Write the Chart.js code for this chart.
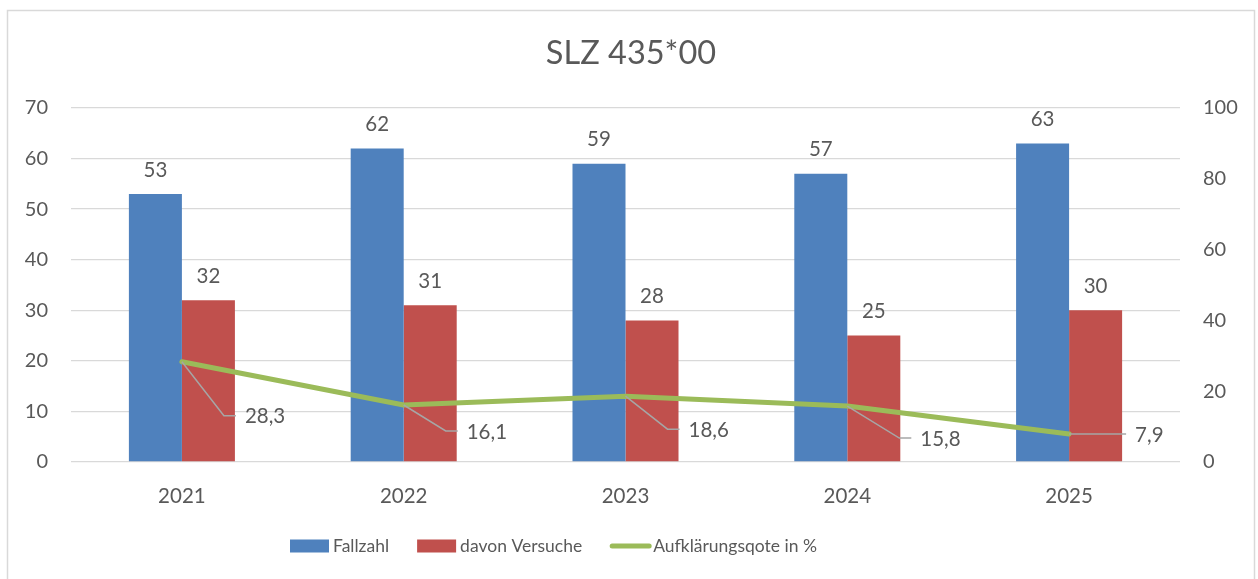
<!DOCTYPE html>
<html lang="de">
<head>
<meta charset="utf-8">
<title>SLZ 435*00</title>
<script src="https://cdn.jsdelivr.net/npm/chart.js@4.4.0/dist/chart.umd.min.js"></script>
<style>
    html, body { margin: 0; padding: 0; background: #fff; }
    #chart { display: block; }
</style>
</head>
<body>
<canvas id="chart" width="1258" height="579"></canvas>
<script>
// Daten aus der Grafik
const jahre = ['2021', '2022', '2023', '2024', '2025'];
const fallzahl = [53, 62, 59, 57, 63];
const versuche = [32, 31, 28, 25, 30];
const aufklaerung = [28.3, 16.1, 18.6, 15.8, 7.9];

const titel = 'SLZ 435*00';
const textFarbe = '#595959';
const schrift = 'Lato, "Open Sans", sans-serif';

// Versatz der Beschriftungen an der Linie (Knick relativ zum Punkt)
const linienLabelVersatz = [[42, 54], [42, 26], [42, 33], [52, 32], [45, 0]];

function formatDe(v) {
    return v.toFixed(1).replace('.', ',');
}

// Rahmen, Titel, Werte und Legende selbst zeichnen
const deko = {
    id: 'deko',
    beforeDraw(chart) {
        const ctx = chart.ctx;
        ctx.save();
        ctx.fillStyle = '#fff';
        ctx.fillRect(0, 0, chart.width, chart.height);
        ctx.strokeStyle = '#D9D9D9';
        ctx.lineWidth = 1.5;
        ctx.strokeRect(7.5, 10.5, 1247, 600);
        ctx.restore();
    },
    afterDatasetsDraw(chart) {
        const ctx = chart.ctx;
        ctx.save();

        // Titel
        ctx.fillStyle = textFarbe;
        ctx.font = '32.5px ' + schrift;
        ctx.textAlign = 'center';
        ctx.textBaseline = 'middle';
        ctx.fillText(titel, 631, 54);

        // Werte über den Balken
        ctx.font = '20.5px ' + schrift;
        [0, 1].forEach(i => {
            const meta = chart.getDatasetMeta(i);
            meta.data.forEach((bar, j) => {
                ctx.fillText(chart.data.datasets[i].data[j], bar.x, bar.y - 24);
            });
        });

        // Werte an der Linie mit Führungslinien
        const lineMeta = chart.getDatasetMeta(2);
        ctx.textAlign = 'left';
        lineMeta.data.forEach((pt, j) => {
            const [dx, dy] = linienLabelVersatz[j];
            const kx = pt.x + dx, ky = pt.y + dy;
            ctx.strokeStyle = '#A6A6A6';
            ctx.lineWidth = 1.5;
            ctx.beginPath();
            ctx.moveTo(pt.x, pt.y);
            ctx.lineTo(kx, ky);
            ctx.lineTo(kx + 12, ky);
            ctx.stroke();
            ctx.fillStyle = textFarbe;
            ctx.fillText(formatDe(aufklaerung[j]), kx + 21, ky + 1);
        });

        // Legende
        ctx.font = '17.5px ' + schrift;
        let x = 290;
        const y = 546;
        chart.data.datasets.forEach(ds => {
            if (ds.type === 'line') {
                ctx.strokeStyle = ds.borderColor;
                ctx.lineWidth = 5;
                ctx.lineCap = 'round';
                ctx.beginPath();
                ctx.moveTo(x + 2, y);
                ctx.lineTo(x + 39, y);
                ctx.stroke();
            } else {
                ctx.fillStyle = ds.backgroundColor;
                ctx.fillRect(x, y - 6.5, 39, 13);
            }
            x += 43;
            ctx.fillStyle = textFarbe;
            ctx.fillText(ds.label, x, y);
            x += ctx.measureText(ds.label).width + 28;
        });

        ctx.restore();
    }
};

new Chart(document.getElementById('chart'), {
    type: 'bar',
    data: {
        labels: jahre,
        datasets: [
            {
                label: 'Fallzahl',
                data: fallzahl,
                backgroundColor: '#4F81BD',
                yAxisID: 'y',
                order: 2,
                categoryPercentage: 0.478,
                barPercentage: 1.0
            },
            {
                label: 'davon Versuche',
                data: versuche,
                backgroundColor: '#C0504D',
                yAxisID: 'y',
                order: 2,
                categoryPercentage: 0.478,
                barPercentage: 1.0
            },
            {
                type: 'line',
                label: 'Aufklärungsqote in %',
                data: aufklaerung,
                borderColor: '#9BBB59',
                backgroundColor: '#9BBB59',
                borderWidth: 5,
                borderCapStyle: 'round',
                borderJoinStyle: 'round',
                pointRadius: 0,
                tension: 0,
                yAxisID: 'y1',
                order: 0
            }
        ]
    },
    options: {
        responsive: false,
        animation: false,
        devicePixelRatio: 1,
        layout: { padding: { top: 108, left: 0, right: 0, bottom: 0 } },
        plugins: {
            legend: { display: false },
            title: { display: false },
            tooltip: { enabled: false }
        },
        scales: {
            x: {
                grid: { display: false },
                border: { display: false },
                ticks: { color: textFarbe, font: { family: schrift, size: 20.5 }, padding: 14 },
                afterFit(scale) { scale.height = 117; }
            },
            y: {
                position: 'left',
                min: 0,
                max: 70,
                ticks: { stepSize: 10, color: textFarbe, font: { family: schrift, size: 20 }, padding: 23 },
                grid: { color: '#D9D9D9', lineWidth: 1.3, drawTicks: false },
                border: { display: false },
                afterFit(scale) { scale.width = 71; }
            },
            y1: {
                position: 'right',
                min: 0,
                max: 100,
                ticks: { stepSize: 20, color: textFarbe, font: { family: schrift, size: 20 }, padding: 23 },
                grid: { display: false, drawTicks: false },
                border: { display: false },
                afterFit(scale) { scale.width = 78; }
            }
        }
    },
    plugins: [deko]
});
</script>
</body>
</html>
